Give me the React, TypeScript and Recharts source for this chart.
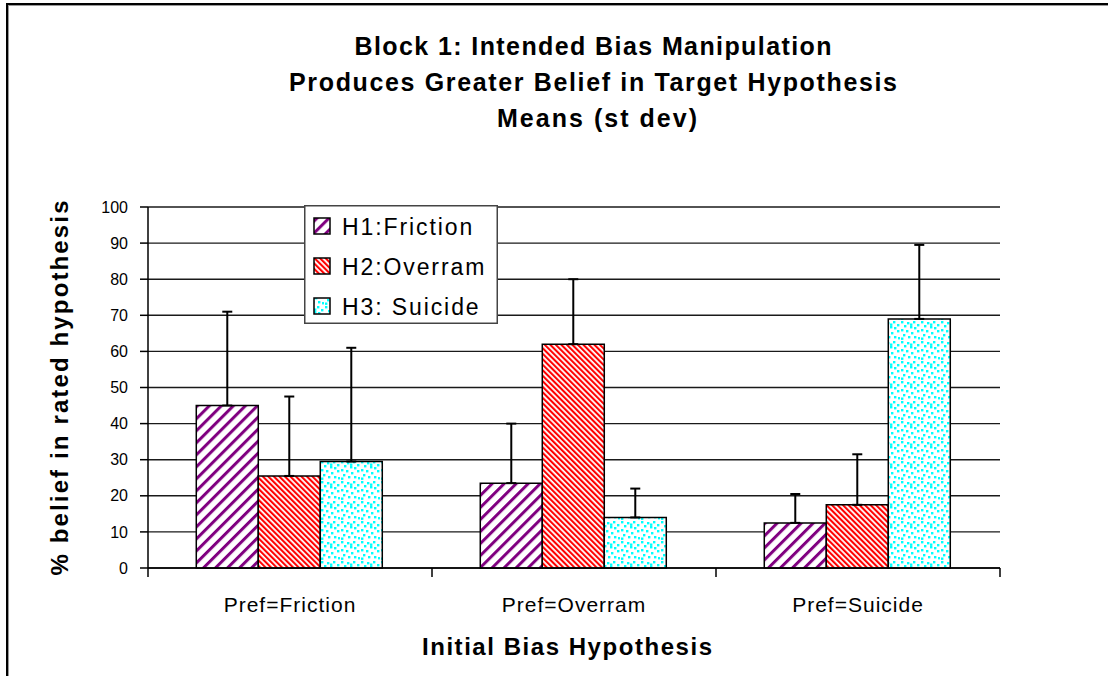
import { Bar, BarChart, CartesianGrid, ErrorBar, Legend, XAxis, YAxis } from "recharts";

const categories = ["Pref=Friction", "Pref=Overram", "Pref=Suicide"];
const seriesNames = ["H1:Friction", "H2:Overram", "H3: Suicide"];
const h1Means = [45, 23.5, 12.5];
const h2Means = [25.5, 62, 17.5];
const h3Means = [29.5, 14, 69];
const h1StDev = [26, 16.5, 8];
const h2StDev = [22, 18, 14];
const h3StDev = [31.5, 8, 20.5];
const yTicks = [0, 10, 20, 30, 40, 50, 60, 70, 80, 90, 100];
const titleLines = [
  "Block 1: Intended Bias Manipulation",
  "Produces Greater Belief in Target Hypothesis",
  "Means (st dev)",
];
const xTitle = "Initial Bias Hypothesis";
const yTitle = "% belief in rated hypothesis";

const data = categories.map((category, i) => ({
  category,
  h1: h1Means[i],
  h2: h2Means[i],
  h3: h3Means[i],
  h1Err: [0, h1StDev[i]],
  h2Err: [0, h2StDev[i]],
  h3Err: [0, h3StDev[i]],
}));

const series = [
  { key: "h1", err: "h1Err", name: seriesNames[0], fill: "url(#stripeH1)" },
  { key: "h2", err: "h2Err", name: seriesNames[1], fill: "url(#stripeH2)" },
  { key: "h3", err: "h3Err", name: seriesNames[2], fill: "url(#dotsH3)" },
];

const FONT = '"Liberation Sans", Arial, sans-serif';

// irregular speckle tile for the cyan fill
const dots = [
  [1, 1], [7, 2], [13, 1], [17, 4], [4, 5], [10, 6], [14, 7], [1, 9], [6, 10],
  [11, 12], [17, 10], [3, 14], [8, 16], [14, 16], [1, 17.5], [18, 17], [10, 3.5],
];

function Patterns() {
  return (
    <svg width={0} height={0} style={{ position: "absolute" }}>
      <defs>
        <pattern id="stripeH1" width={8.5} height={8.5} patternUnits="userSpaceOnUse" patternTransform="rotate(45)">
          <rect width={8.5} height={8.5} fill="#fff" />
          <rect width={3} height={8.5} fill="#800080" />
        </pattern>
        <pattern id="stripeH2" width={3.9} height={3.9} patternUnits="userSpaceOnUse" patternTransform="rotate(-45)">
          <rect width={3.9} height={3.9} fill="#fff" />
          <rect width={2.1} height={3.9} fill="#ff0000" />
        </pattern>
        <pattern id="dotsH3" width={20} height={20} patternUnits="userSpaceOnUse">
          <rect width={20} height={20} fill="#fff" />
          {dots.map(([dx, dy], i) => (
            <rect key={i} x={dx} y={dy} width={2.4} height={2.4} fill="#00ffff" />
          ))}
        </pattern>
      </defs>
    </svg>
  );
}

const CategoryTick = (props: any) => {
  const { x, y, payload, index, visibleTicksCount, width } = props;
  const half = (width || 852) / (2 * (visibleTicksCount || 3));
  return (
    <g>
      <line x1={x - half} y1={y} x2={x - half} y2={y + 9} stroke="#000" strokeWidth={1.5} />
      {index === visibleTicksCount - 1 && (
        <line x1={x + half} y1={y} x2={x + half} y2={y + 9} stroke="#000" strokeWidth={1.5} />
      )}
      <text x={x} y={y + 44} textAnchor="middle" fontSize={21} letterSpacing={1} fill="#000" fontFamily={FONT}>
        {payload.value}
      </text>
    </g>
  );
};

const renderLegend = (props: any) => {
  const items = props.payload && props.payload.length ? props.payload : series.map((s) => ({ value: s.name }));
  return (
    <svg width={194} height={119} style={{ display: "block" }}>
      <rect x={0.75} y={0.75} width={192.5} height={117.5} fill="#fff" stroke="#444" strokeWidth={1.5} />
      {items.map((item: any, i: number) => (
        <g key={i}>
          <rect x={10} y={13 + i * 40} width={16} height={16} fill={series[i].fill} stroke="#000" strokeWidth={1.5} />
          <text x={38} y={29.5 + i * 40} fontSize={23} letterSpacing={1.9} fill="#000" fontFamily={FONT}>
            {item.value}
          </text>
        </g>
      ))}
    </svg>
  );
};

function Titles() {
  return (
    <g fontFamily={FONT} fill="#000" fontWeight="bold">
      <text x={593} y={55} textAnchor="middle" fontSize={25} textLength={477}>{titleLines[0]}</text>
      <text x={593} y={91} textAnchor="middle" fontSize={25} textLength={608}>{titleLines[1]}</text>
      <text x={597} y={127} textAnchor="middle" fontSize={25} textLength={200}>{titleLines[2]}</text>
      <text x={567} y={655} textAnchor="middle" fontSize={24} textLength={290}>{xTitle}</text>
      <text x={68} y={388} textAnchor="middle" fontSize={24} textLength={375} transform="rotate(-90 68 388)">
        {yTitle}
      </text>
    </g>
  );
}

export default function App() {
  return (
    <div style={{ position: "absolute", left: 0, top: 0, width: 1108, height: 676, background: "#fff" }}>
      <Patterns />
      <div
        style={{
          position: "absolute",
          left: 6,
          top: 3,
          width: 1102,
          height: 673,
          boxSizing: "border-box",
          borderLeft: "2px solid #000",
          borderTop: "2px solid #000",
        }}
      >
        <div
          style={{
            width: "100%",
            height: "100%",
            boxSizing: "border-box",
            borderLeft: "1px solid #999",
            borderTop: "1px solid #999",
          }}
        />
      </div>
      <div style={{ position: "absolute", left: 0, top: 0 }}>
        <BarChart
          width={1108}
          height={676}
          data={data}
          margin={{ top: 207, right: 108, bottom: 48, left: 88 }}
          barCategoryGap="17%"
          barGap={0}
        >
          <CartesianGrid vertical={false} stroke="#1a1a1a" strokeWidth={1.4} />
          <XAxis
            dataKey="category"
            height={60}
            interval={0}
            tickLine={false}
            tickSize={0}
            tickMargin={0}
            axisLine={{ stroke: "#000", strokeWidth: 1.5 }}
            tick={<CategoryTick />}
          />
          <YAxis
            width={60}
            domain={[0, 100]}
            ticks={yTicks}
            interval={0}
            tickSize={8}
            tickMargin={12}
            axisLine={{ stroke: "#000", strokeWidth: 1.5 }}
            tickLine={{ stroke: "#000", strokeWidth: 1.5 }}
            tick={{ fill: "#000", fontSize: 16, fontFamily: FONT }}
          />
          <YAxis
            yAxisId="frame"
            orientation="right"
            width={0}
            domain={[0, 100]}
            tick={false}
            tickLine={false}
            axisLine={{ stroke: "#808080", strokeWidth: 1.5 }}
          />
          {series.map((s) => (
            <Bar
              key={s.key}
              dataKey={s.key}
              name={s.name}
              fill={s.fill}
              stroke="#000"
              strokeWidth={1.5}
              isAnimationActive={false}
            >
              <ErrorBar dataKey={s.err} direction="y" width={5} stroke="#000" strokeWidth={2} isAnimationActive={false} />
            </Bar>
          ))}
          <Legend
            content={renderLegend}
            layout="vertical"
            align="center"
            verticalAlign="middle"
            wrapperStyle={{ left: 304, top: 205, width: 194, height: 119 }}
          />
          <Titles />
        </BarChart>
      </div>
    </div>
  );
}
